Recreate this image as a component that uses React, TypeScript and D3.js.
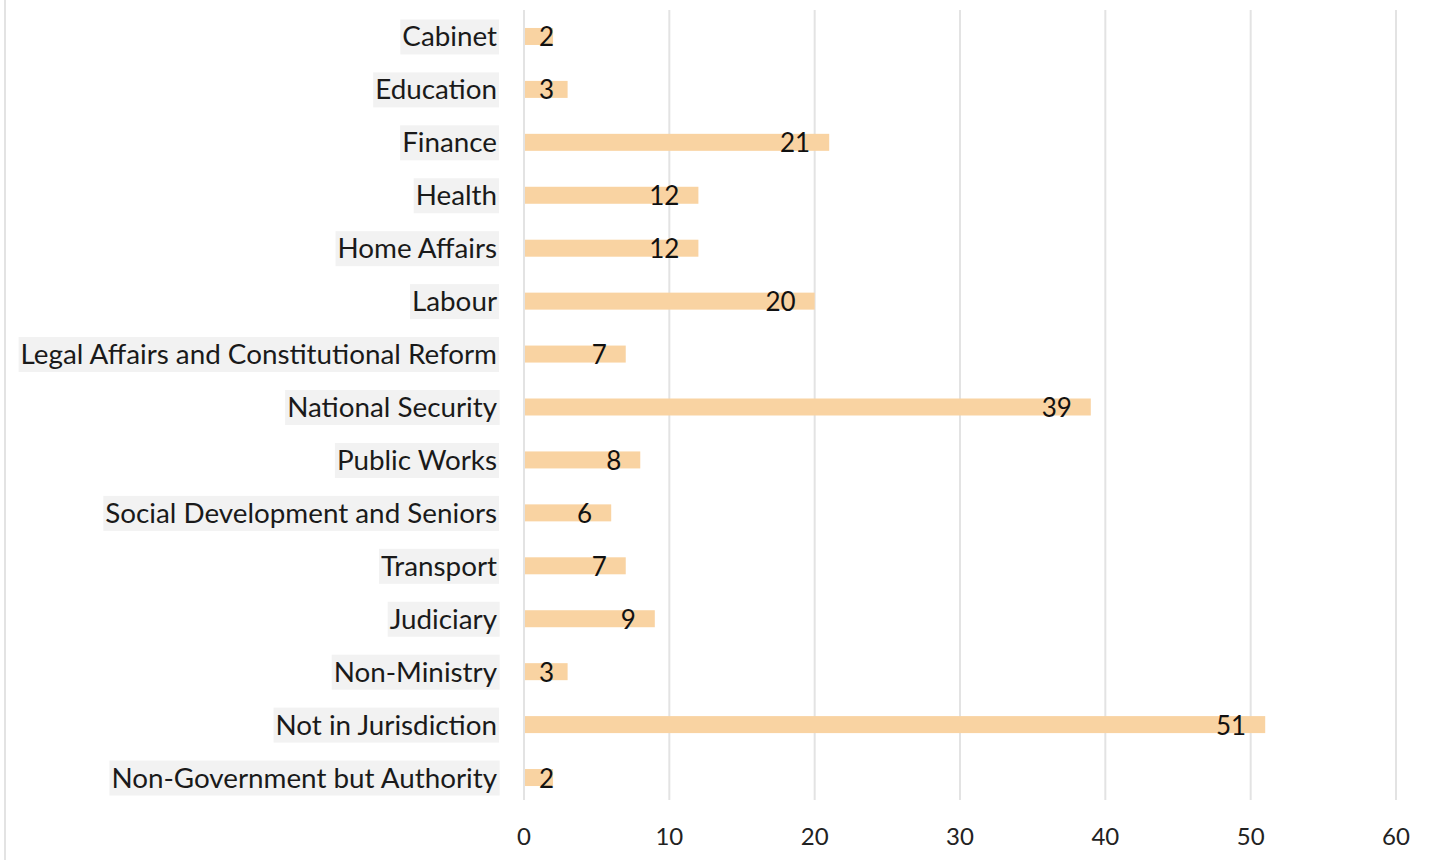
import React from "react";
import * as d3 from "d3";

const categories = [
  "Cabinet",
  "Education",
  "Finance",
  "Health",
  "Home Affairs",
  "Labour",
  "Legal Affairs and Constitutional Reform",
  "National Security",
  "Public Works",
  "Social Development and Seniors",
  "Transport",
  "Judiciary",
  "Non-Ministry",
  "Not in Jurisdiction",
  "Non-Government but Authority",
];
const values = [2, 3, 21, 12, 12, 20, 7, 39, 8, 6, 7, 9, 3, 51, 2];
const xTicks = [0, 10, 20, 30, 40, 50, 60];

const W = 1435;
const H = 860;
const FONT = "Lato, 'Open Sans', sans-serif";

export default function App() {
  const x = d3.scaleLinear().domain([0, 60]).range([524, 1396]);
  const y = d3.scalePoint<string>().domain(categories).range([10, 804]).padding(0.5);
  const barH = 17;
  const labelRef = React.useRef<SVGGElement>(null);

  React.useEffect(() => {
    const g = labelRef.current;
    if (!g) return;
    d3.select(g)
      .selectAll<SVGGElement, unknown>("g.cat")
      .each(function () {
        const t = this.querySelector("text") as SVGTextElement;
        const r = this.querySelector("rect") as SVGRectElement;
        const bb = t.getBBox();
        r.setAttribute("x", String(bb.x - 2));
        r.setAttribute("width", String(bb.width + 4));
      });
  }, []);

  return (
    <svg width={W} height={H} style={{ position: "absolute", left: 0, top: 0 }}>
      <rect width={W} height={H} fill="#fff" />
      <line x1={5} x2={5} y1={0} y2={H} stroke="#e3e3e3" strokeWidth={2} />
      {xTicks.map((t) => (
        <g key={t}>
          <line x1={x(t)} x2={x(t)} y1={10} y2={800} stroke="#e3e3e3" strokeWidth={2} />
          <text
            x={x(t)}
            y={845}
            textAnchor="middle"
            fontFamily={FONT}
            fontSize={24}
            fill="#222"
          >
            {t}
          </text>
        </g>
      ))}
      <g ref={labelRef}>
        {categories.map((c) => (
          <g className="cat" key={c}>
            <rect x={0} y={(y(c) as number) - 17} width={0} height={35} fill="#f2f2f2" />
            <text
              x={497}
              y={(y(c) as number) + 10}
              textAnchor="end"
              fontFamily={FONT}
              fontSize={27.8}
              fill="#1a1a1a"
            >
              {c}
            </text>
          </g>
        ))}
      </g>
      {categories.map((c, i) => {
        const cy = y(c) as number;
        const end = x(values[i]);
        return (
          <g key={c + "bar"}>
            <rect x={x(0) + 1} y={cy - barH / 2} width={end - x(0) - 1} height={barH} fill="#f9d3a2" />
            <text
              x={Math.max(end - 19, 554)}
              y={cy + 10}
              textAnchor="end"
              fontFamily={FONT}
              fontSize={26}
              fill="#111"
            >
              {values[i]}
            </text>
          </g>
        );
      })}
    </svg>
  );
}
